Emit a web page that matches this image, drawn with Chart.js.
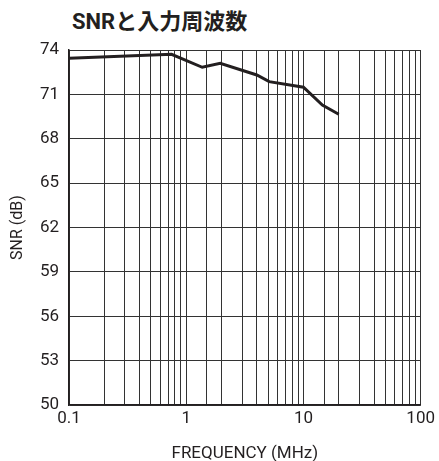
<!DOCTYPE html>
<html>
<head>
<meta charset="utf-8">
<script src="https://cdn.jsdelivr.net/npm/chart.js@4/dist/chart.umd.min.js"></script>
<style>
  html, body { margin: 0; padding: 0; background: #fff; }
  #wrap { position: relative; width: 439px; height: 461px; }
  #title {
    position: absolute; left: 72px; top: 9px;
    font: bold 22px "Roboto", "Noto Sans CJK JP", sans-serif;
    color: #231f20; line-height: 26px; white-space: nowrap;
  }
  canvas { position: absolute; left: 0; top: 0; }
</style>
</head>
<body>
<div id="wrap">
  <div id="title">SNRと入力周波数</div>
  <canvas id="chart" width="439" height="461"></canvas>
</div>
<script>
// SNR vs input frequency
const freqMHz = [0.1, 0.75, 1.37, 1.95, 4, 5.1, 10, 14.5, 20];
const snrDb = [73.44, 73.71, 72.83, 73.1, 72.31, 71.86, 71.48, 70.28, 69.66];
const xTickLabels = [0.1, 1, 10, 100];
const yMin = 50, yMax = 74, yStep = 3;

const FONT = "'Roboto', sans-serif";
const ink = "#231f20";

const isDecade = (v) => xTickLabels.some((t) => Math.abs(Math.log10(v) - Math.log10(t)) < 1e-6);

const ctx = document.getElementById("chart");
const snrChart = new Chart(ctx, {
  type: "line",
  data: {
    datasets: [
      {
        label: "SNR",
        data: freqMHz.map((f, i) => ({ x: f, y: snrDb[i] })),
        borderColor: ink,
        borderWidth: 3,
        pointRadius: 0,
        tension: 0,
        fill: false,
      },
    ],
  },
  options: {
    responsive: false,
    animation: false,
    layout: { padding: { top: 50, right: 15, left: 0, bottom: -3 } },
    scales: {
      x: {
        type: "logarithmic",
        min: 0.1,
        max: 100,
        afterFit: (s) => { s.height = 59; },
        border: { color: ink, width: 1.5 },
        grid: { color: "#333", lineWidth: 1, drawTicks: false },
        ticks: {
          autoSkip: false,
          maxRotation: 0,
          padding: 4,
          color: ink,
          font: { family: FONT, size: 17 },
          callback: (v) => (isDecade(v) ? String(v) : ""),
        },
        title: {
          display: true,
          text: "FREQUENCY (MHz)",
          color: ink,
          font: { family: FONT, size: 17 },
          padding: { top: 0, bottom: 0 },
        },
      },
      y: {
        min: yMin,
        max: yMax,
        afterFit: (s) => { s.width = 69; },
        border: { color: ink, width: 1.5 },
        grid: { color: "#333", lineWidth: 1, drawTicks: false },
        ticks: {
          stepSize: yStep,
          padding: 10,
          color: ink,
          font: { family: FONT, size: 17 },
        },
        title: {
          display: true,
          text: "SNR (dB)",
          color: ink,
          font: { family: FONT, size: 16 },
          padding: { top: 8, bottom: 4 },
        },
      },
    },
    plugins: {
      legend: { display: false },
      tooltip: { enabled: false },
    },
  },
});
</script>
</body>
</html>
